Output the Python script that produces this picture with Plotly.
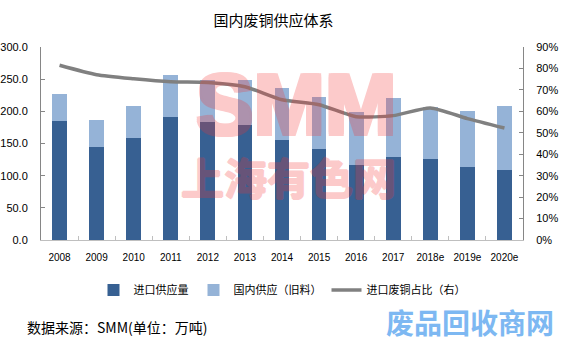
import plotly.graph_objects as go

years = ["2008", "2009", "2010", "2011", "2012", "2013", "2014", "2015",
         "2016", "2017", "2018e", "2019e", "2020e"]
totals = [227, 187, 208, 257, 249, 249, 237, 222, 199, 221, 206, 201, 208]
imported = [185, 145, 159, 191, 184, 179, 156, 142, 116, 129, 126, 114, 109]
domestic = [t - i for t, i in zip(totals, imported)]
import_share = [0.815, 0.771, 0.752, 0.738, 0.735, 0.715, 0.654, 0.631,
                0.575, 0.580, 0.616, 0.566, 0.522]

W, H = 566, 341
L, R, T, B = 41, 43, 47, 101
pw, ph = W - L - R, H - T - B

def px(x):
    return (x - L) / pw

def py(y):
    return (H - B - y) / ph

def thick(color, d, diag=True):
    offs = [(d, 0), (-d, 0), (0, d), (0, -d)]
    if diag:
        offs += [(d, d), (-d, -d), (d, -d), (-d, d)]
    return ", ".join(f"{a}px {b}px 0 {color}" for a, b in offs)

font_family = "Liberation Sans, Noto Sans CJK SC, sans-serif"
cjk = "Noto Sans CJK SC, sans-serif"
wm = "rgb(245,50,50)"
logo = "#7DB8F2"

fig = go.Figure()
fig.add_trace(go.Bar(x=years, y=imported, name="进口供应量",
                     marker=dict(color="#376092", line=dict(width=0))))
fig.add_trace(go.Bar(x=years, y=domestic, name="国内供应（旧料）",
                     marker=dict(color="#95B3D7", line=dict(width=0))))
fig.add_trace(go.Scatter(x=years, y=import_share, name="进口废铜占比（右）",
                         yaxis="y2", mode="lines",
                         line=dict(color="#808080", width=3.5, shape="spline",
                                   smoothing=0.6)))

annotations = [
    dict(text="<b>SMM</b>", x=px(296), y=py(104), xref="paper", yref="paper",
         showarrow=False, opacity=0.25,
         font=dict(family="Liberation Sans", size=86, weight="bold",
                   color=wm, shadow=thick(wm, 2)),
         xanchor="center", yanchor="middle"),
    dict(text="<b>上海有色网</b>", x=px(288), y=py(176), xref="paper", yref="paper",
         showarrow=False, opacity=0.25,
         font=dict(family=cjk, size=43, weight="bold", color=wm,
                   shadow=thick(wm, 1, diag=False)),
         xanchor="center", yanchor="middle"),
    dict(text="数据来源：SMM(单位：万吨)", x=px(25), y=py(327), xref="paper",
         yref="paper", showarrow=False, xanchor="left", yanchor="middle",
         font=dict(family=cjk, size=14, color="#000000")),
    dict(text="<b>废品回收商网</b>", x=px(470), y=py(322), xref="paper",
         yref="paper", showarrow=False, xanchor="center", yanchor="middle",
         font=dict(family=cjk, size=28, weight="bold", color=logo)),
]

fig.update_layout(
    width=W, height=H,
    margin=dict(l=L, r=R, t=T, b=B, pad=0, autoexpand=False),
    paper_bgcolor="white", plot_bgcolor="white",
    barmode="stack", bargap=0.6,
    title=dict(text="国内废铜供应体系", x=px(274), xanchor="center",
               y=1 - 21 / H, yanchor="middle",
               font=dict(family=cjk, size=15, color="#000000")),
    font=dict(family=font_family, size=11, color="#000000"),
    showlegend=True,
    legend=dict(orientation="h", x=0.5, xanchor="center", y=py(290),
                yanchor="middle", font=dict(family=cjk, size=11),
                bgcolor="rgba(0,0,0,0)", itemwidth=30, traceorder="normal"),
    xaxis=dict(type="category", showline=True, linecolor="#BFBFBF",
               linewidth=1, ticks="inside", tickson="boundaries",
               ticklen=4, tickcolor="#BFBFBF", tickangle=0,
               ticklabelstandoff=8, automargin=False,
               tickfont=dict(family=font_family, size=10), showgrid=False,
               zeroline=False),
    yaxis=dict(range=[0, 300], dtick=50, tickformat=".1f", showline=True,
               linecolor="#868686", ticks="inside", ticklen=4,
               tickcolor="#868686", showgrid=False, zeroline=False,
               ticklabelstandoff=10, automargin=False,
               tickfont=dict(family=font_family, size=11)),
    yaxis2=dict(range=[0, 0.9], dtick=0.1, tickformat=".0%", overlaying="y",
                side="right", showline=True, linecolor="#868686",
                ticks="inside", ticklen=4, tickcolor="#868686",
                showgrid=False, zeroline=False, ticklabelstandoff=10,
                automargin=False,
                tickfont=dict(family=font_family, size=11)),
    annotations=annotations,
)

fig.write_html("out.html")
